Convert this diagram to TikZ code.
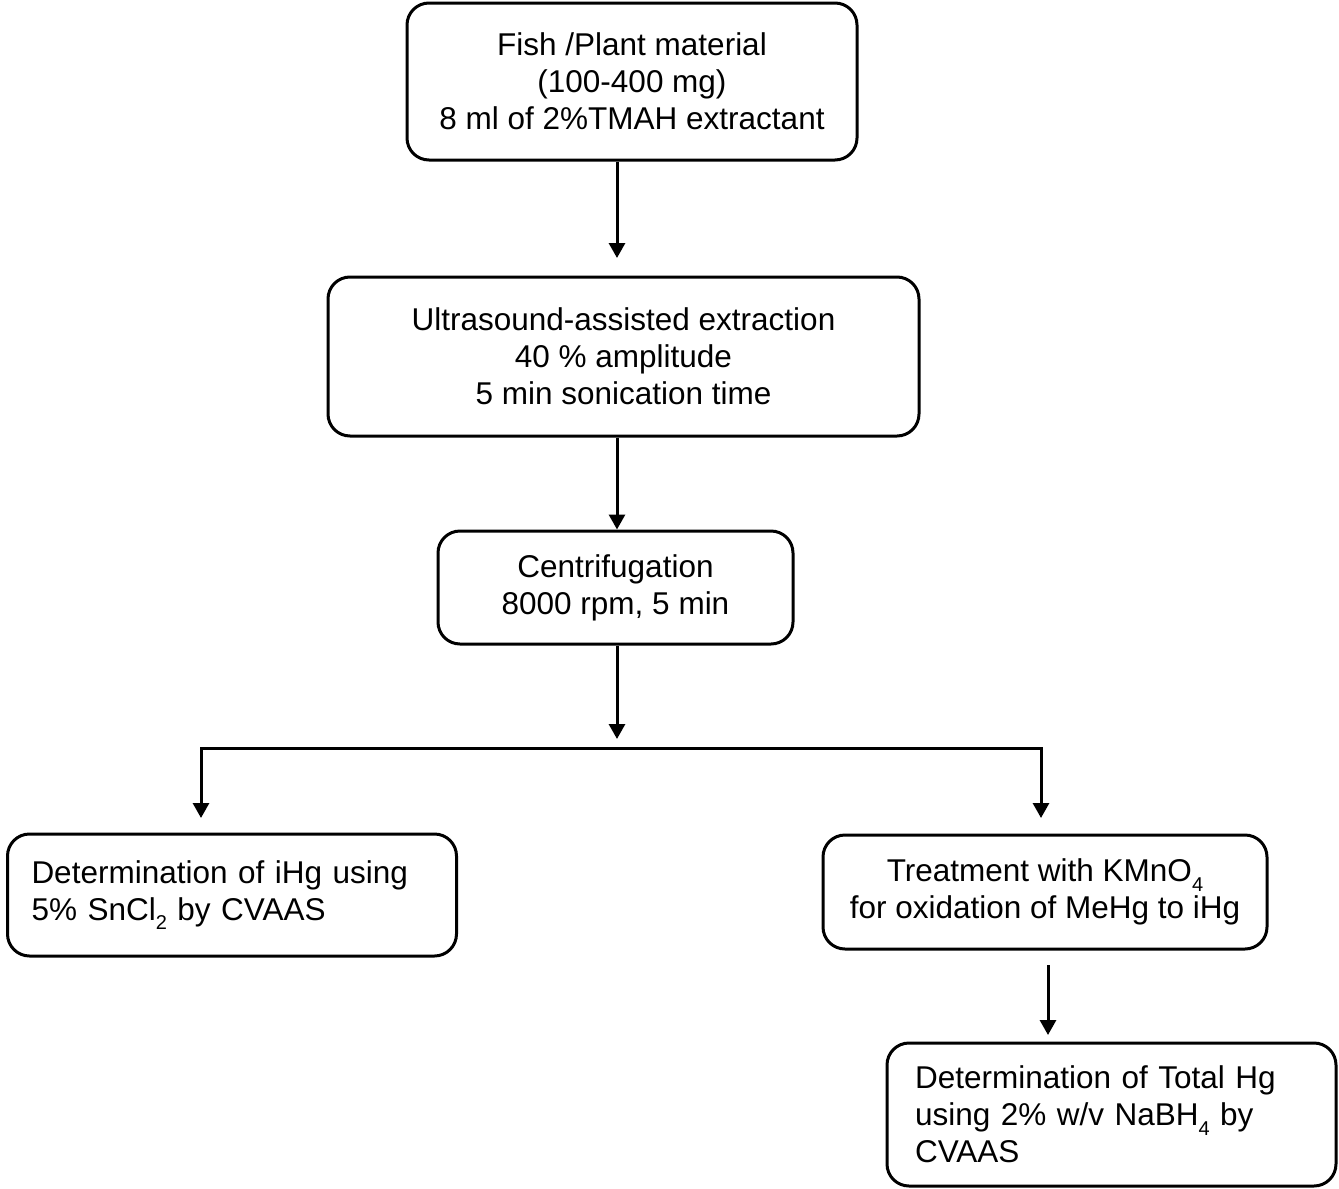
\documentclass[tikz,border=0pt]{standalone}
\usepackage{fontspec}
\setmainfont{Liberation Sans}
\usetikzlibrary{arrows.meta}
\newcommand{\lowsub}[1]{\raisebox{-0.3em}{\fontsize{20}{20}\selectfont #1}}
\begin{document}
\begin{tikzpicture}[x=1pt,y=-1pt,
  box/.style={draw, line width=3pt, rounded corners=22pt, inner sep=0pt, font=\fontsize{31.5}{37}\selectfont},
  arr/.style={line width=3pt, -{Triangle[width=16pt,length=15pt]}},
  plain/.style={line width=3pt, line cap=rect}]
\useasboundingbox (0,0) rectangle (1339,1189);
\node[box, minimum width=450pt, minimum height=157pt, align=center] (b1) at (632,81.5)
  {Fish /Plant material\\(100-400 mg)\\8 ml of 2\%TMAH extractant};
\node[box, minimum width=591pt, minimum height=159pt, align=center] (b2) at (623.5,356.5)
  {Ultrasound-assisted extraction\\40 \% amplitude\\5 min sonication time};
\node[box, minimum width=355pt, minimum height=113pt, align=center] (b3) at (615.5,587.5)
  {Centrifugation\\8000 rpm, 5 min};
\node[box, minimum width=449pt, minimum height=122pt, align=left, inner xsep=24pt, text width=401pt] (b4) at (232,895)
  {Determination of iHg using\\5\% SnCl\lowsub{2} by CVAAS};
\node[box, minimum width=444pt, minimum height=114pt, align=center] (b5) at (1045,892)
  {Treatment with KMnO\lowsub{4}\\for oxidation of MeHg to iHg};
\node[box, minimum width=449pt, minimum height=143pt, align=left, inner xsep=28pt, text width=393pt] (b6) at (1111.5,1114.5)
  {Determination of Total Hg\\using 2\% w/v NaBH\lowsub{4} by\\CVAAS};
\coordinate (t1) at (617,258);
\coordinate (t3) at (617,739);
\coordinate (hl) at (201,748);
\coordinate (hr) at (1041,748);
\coordinate (t4) at (201,818);
\coordinate (t5) at (1041,818);
\coordinate (s6) at (1048,965);
\coordinate (t6) at (1048,1035);
\draw[arr] (b1.south -| t1) -- (t1);
\draw[arr] (b2.south -| t1) -- (b3.north -| t1);
\draw[arr] (b3.south -| t1) -- (t3);
\draw[plain] (hl) -- (hr);
\draw[arr] (hl) -- (t4);
\draw[arr] (hr) -- (t5);
\draw[arr] (s6) -- (t6);
\end{tikzpicture}
\end{document}
